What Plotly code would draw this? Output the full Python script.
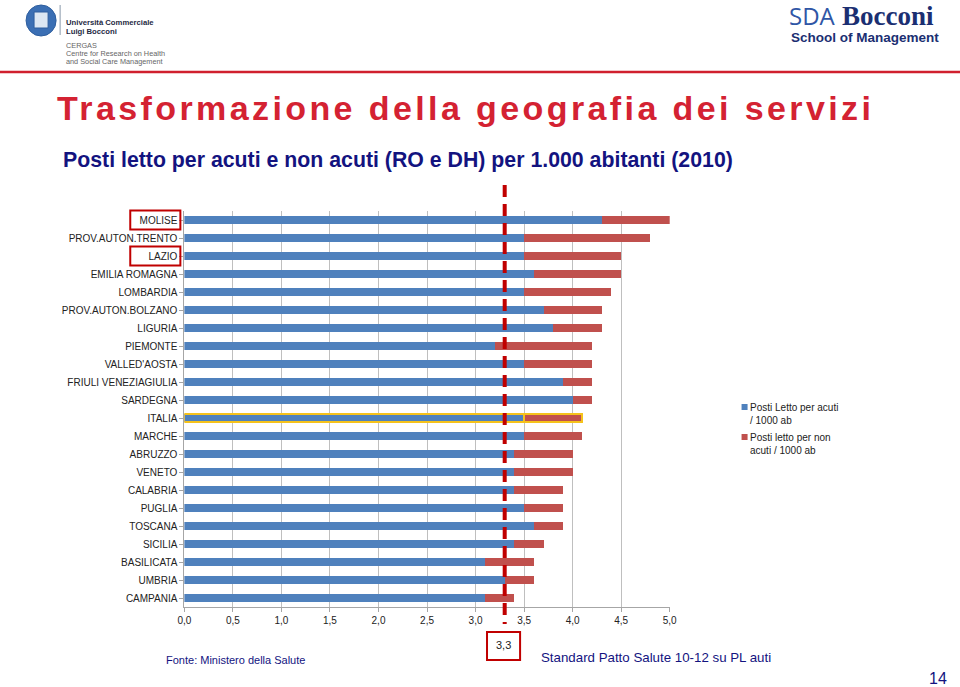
import plotly.graph_objects as go

regions = ["MOLISE", "PROV.AUTON.TRENTO", "LAZIO", "EMILIA ROMAGNA", "LOMBARDIA",
           "PROV.AUTON.BOLZANO", "LIGURIA", "PIEMONTE", "VALLED'AOSTA",
           "FRIULI VENEZIAGIULIA", "SARDEGNA", "ITALIA", "MARCHE", "ABRUZZO",
           "VENETO", "CALABRIA", "PUGLIA", "TOSCANA", "SICILIA", "BASILICATA",
           "UMBRIA", "CAMPANIA"]
acuti = [4.3, 3.5, 3.5, 3.6, 3.5, 3.7, 3.8, 3.2, 3.5, 3.9, 4.0, 3.5, 3.5, 3.4,
         3.4, 3.4, 3.5, 3.6, 3.4, 3.1, 3.3, 3.1]
non_acuti = [0.7, 1.3, 1.0, 0.9, 0.9, 0.6, 0.5, 1.0, 0.7, 0.3, 0.2, 0.6, 0.6, 0.6,
             0.6, 0.5, 0.4, 0.3, 0.3, 0.5, 0.3, 0.3]
x_ticks = [0.0, 0.5, 1.0, 1.5, 2.0, 2.5, 3.0, 3.5, 4.0, 4.5, 5.0]
x_tick_labels = ["0,0", "0,5", "1,0", "1,5", "2,0", "2,5", "3,0", "3,5", "4,0", "4,5", "5,0"]
standard = 3.3
highlight = "ITALIA"
boxed = ["MOLISE", "LAZIO"]
legend_names = ["Posti Letto per acuti<br>/ 1000 ab", "Posti letto per non<br>acuti / 1000 ab"]

W, H = 960, 687
BLUE = "#4F81BD"
RED = "#C0504D"
YELLOW = "#F5C21B"
DARKRED = "#C00000"
NAVY = "#13137F"
FONT = "Liberation Sans, Arial, sans-serif"

# horizontal mapping compensates for the viewer's horizontal offset/scale
def px(x):
    return (x - 8) / 944

def py(y):
    return 1 - y / H

line_w = [2 if r == highlight else 0 for r in regions]
line_c = [YELLOW if r == highlight else "rgba(0,0,0,0)" for r in regions]

fig = go.Figure()
fig.add_trace(go.Bar(
    y=regions, x=acuti, orientation="h", name=legend_names[0],
    marker=dict(color=BLUE, line=dict(width=line_w, color=line_c)), width=0.42))
fig.add_trace(go.Bar(
    y=regions, x=non_acuti, orientation="h", name=legend_names[1],
    marker=dict(color=RED, line=dict(width=line_w, color=line_c)), width=0.42))

x0, x1 = 185, 669.3
y_top, y_bot = 211, 607

fig.update_layout(
    width=W, height=H, autosize=False, margin=dict(l=0, r=0, t=0, b=0),
    paper_bgcolor="white", plot_bgcolor="white",
    barmode="stack",
    font=dict(family=FONT, size=10, color="#333333"),
    showlegend=False,
    xaxis=dict(domain=[px(x0), px(x1)], range=[0, 5], tickvals=x_ticks,
               ticktext=x_tick_labels, showgrid=True, gridcolor="#BFBFBF",
               gridwidth=1, showline=True, linecolor="#A6A6A6", ticks="outside",
               ticklen=4, tickcolor="#A6A6A6", tickfont=dict(size=10, color="#222222"),
               zeroline=False, fixedrange=True),
    yaxis=dict(domain=[py(y_bot), py(y_top)], autorange="reversed",
               categoryorder="array", categoryarray=regions,
               showline=True, linecolor="#A6A6A6", ticks="outside", ticklen=4,
               tickcolor="#A6A6A6", tickfont=dict(size=10, color="#222222"),
               showgrid=False, fixedrange=True),
)

def txt(x, y, s, size, color, bold=False, anchor="left", family=FONT):
    fig.add_annotation(x=px(x), y=py(y), xref="paper", yref="paper", showarrow=False,
                       text=(f"<b>{s}</b>" if bold else s), xanchor=anchor, yanchor="middle",
                       font=dict(size=size, color=color, family=family))

# custom legend
for i, (name, col) in enumerate(zip(legend_names, [BLUE, RED])):
    yc = 407 + i * 30
    fig.add_shape(type="rect", xref="paper", yref="paper", x0=px(741), x1=px(747),
                  y0=py(yc + 3), y1=py(yc - 3), fillcolor=col, line=dict(width=0))
    fig.add_annotation(x=px(747), y=py(yc - 7), xref="paper", yref="paper", showarrow=False,
                       text=name, xanchor="left", yanchor="top", align="left",
                       font=dict(size=10, color="#222222", family=FONT))

# standard dashed line
fig.add_shape(type="line", xref="x", yref="paper", x0=standard, x1=standard,
              y0=py(185), y1=py(624), line=dict(color=DARKRED, width=4, dash="12px,7px"))

# boxed label annotations
for r in boxed:
    idx = regions.index(r)
    yc = 220 + idx * 18
    fig.add_shape(type="rect", xref="paper", yref="paper", x0=px(131), x1=px(181),
                  y0=py(yc - 9.5), y1=py(yc + 9.5), line=dict(color=DARKRED, width=2))

# 3,3 box
fig.add_shape(type="rect", xref="paper", yref="paper", x0=px(487), x1=px(520),
              y0=py(632), y1=py(660), line=dict(color=DARKRED, width=2), fillcolor="white")
fig.add_annotation(x=px(503.5), y=py(645), xref="paper", yref="paper", showarrow=False,
                   text="3,3", xanchor="center", yanchor="middle",
                   font=dict(size=11, color="#222222"))

# header red rule
fig.add_shape(type="line", xref="paper", yref="paper", x0=-0.02, x1=1.02, y0=py(72), y1=py(72),
              line=dict(color="#D0202E", width=2.5))

# left logo
fig.add_shape(type="circle", xref="paper", yref="paper", x0=px(27), x1=px(57),
              y0=py(36), y1=py(5), fillcolor="#3B6FB4", line=dict(color="#2E5E9E", width=1))
fig.add_shape(type="rect", xref="paper", yref="paper", x0=px(35), x1=px(49),
              y0=py(28), y1=py(12), fillcolor="#DCE7F3", line=dict(color="#2E5E9E", width=1))
fig.add_shape(type="line", xref="paper", yref="paper", x0=px(61), x1=px(61),
              y0=py(5), y1=py(35), line=dict(color="#8899AA", width=1))

txt(65, 22, "Università Commerciale", 7.7, "#1F2A44", bold=True)
txt(65, 31, "Luigi Bocconi", 7.7, "#1F2A44", bold=True)
txt(65, 45, "CERGAS", 7.3, "#666666")
txt(65, 53, "Centre for Research on Health", 7.3, "#666666")
txt(65, 61, "and Social Care Management", 7.3, "#666666")

# right logo
txt(786, 16, "SDA", 24, "#2F56A6", family="Open Sans, Liberation Sans, sans-serif")
txt(839, 16, "Bocconi", 27, "#1B2F72", bold=True, family="Liberation Serif, serif")
txt(788, 37, "School of Management", 13.5, "#1B2F72", bold=True)

# titles
fig.add_annotation(x=px(56), y=py(108), xref="paper", yref="paper", showarrow=False,
                   text='<span style="letter-spacing:3.4px"><b>Trasformazione della geografia dei servizi</b></span>',
                   xanchor="left", yanchor="middle",
                   font=dict(size=34, color="#D42232", family=FONT))
txt(62, 160, "Posti letto per acuti e non acuti (RO e DH) per 1.000 abitanti (2010)", 21.3, NAVY, bold=True)

# footer
txt(165, 660, "Fonte: Ministero della Salute", 11, NAVY)
txt(539, 657, "Standard Patto Salute 10-12 su PL auti", 13.3, NAVY)
txt(926, 678, "14", 16, NAVY)

fig.write_html("out.html", default_width="960px", default_height="687px",
               config={"responsive": False, "displayModeBar": False},
               post_script="document.body.style.margin='0px';document.body.style.overflow='hidden';")
